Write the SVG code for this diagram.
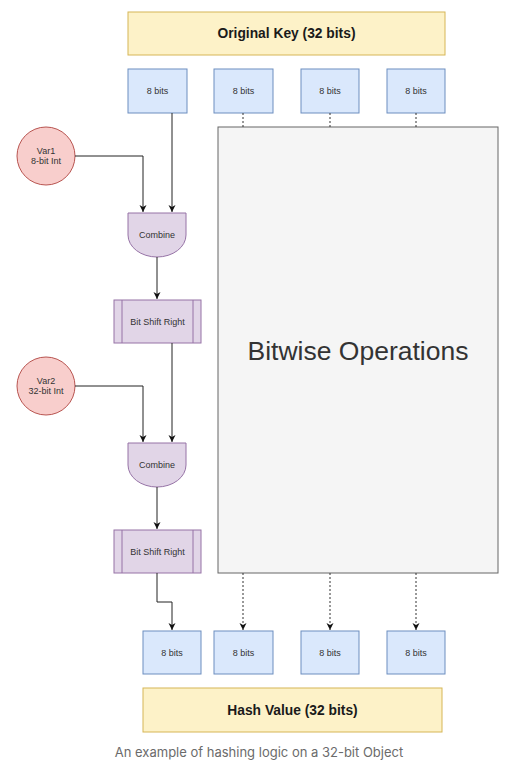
<svg xmlns="http://www.w3.org/2000/svg" width="512" height="768" viewBox="0 0 512 768">
<style>
.y{fill:#fdf2c8;stroke:#d6b656;stroke-width:1}
.b{fill:#dae8fc;stroke:#6c8ebf;stroke-width:1}
.p{fill:#e1d5e7;stroke:#9673a6;stroke-width:1}
.r{fill:#f8cecc;stroke:#b85450;stroke-width:1}
.g{fill:#f5f5f5;stroke:#666666;stroke-width:1}
.t{font-family:"Liberation Sans",Arial,sans-serif;font-size:9px;fill:#333333;text-anchor:middle}
.h{font-family:"Liberation Sans",Arial,sans-serif;font-size:13.8px;font-weight:bold;fill:#1a1a1a;text-anchor:middle}
.c{fill:none;stroke:#222222;stroke-width:1}
.d{fill:none;stroke:#333333;stroke-width:1;stroke-dasharray:2 2}
</style>
<defs>
<marker id="a" markerWidth="8" markerHeight="8" refX="7" refY="4" orient="auto" markerUnits="userSpaceOnUse">
<path d="M0,0.5 L7,4 L0,7.5 L2,4 Z" fill="#111111"/>
</marker>
</defs>
<rect width="512" height="768" fill="#ffffff"/>
<g id="original-key"><rect class="y" x="128" y="12" width="317" height="43"/><text class="h" x="286.5" y="38">Original Key (32 bits)</text></g>
<g id="in1"><rect class="b" x="128" y="69" width="59" height="44"/><text class="t" x="157.5" y="94">8 bits</text></g>
<g id="in2"><rect class="b" x="214" y="69" width="59" height="44"/><text class="t" x="243.5" y="94">8 bits</text></g>
<g id="in3"><rect class="b" x="301" y="69" width="58" height="44"/><text class="t" x="330" y="94">8 bits</text></g>
<g id="in4"><rect class="b" x="387" y="69" width="58" height="44"/><text class="t" x="416" y="94">8 bits</text></g>
<g id="bitwise"><rect class="g" x="218" y="127" width="280" height="446"/><text x="358" y="360" font-family="'Liberation Sans',Arial,sans-serif" font-size="26.5" fill="#333333" text-anchor="middle">Bitwise Operations</text></g>
<g id="var1"><circle class="r" cx="46" cy="156" r="29"/><text class="t" x="46" y="154">Var1</text><text class="t" x="46" y="164">8-bit Int</text></g>
<g id="combine1"><path class="p" d="M128,213 H186 V235 A29,22 0 0 1 128,235 Z"/><text class="t" x="157" y="238">Combine</text></g>
<g id="shift1"><rect class="p" x="114" y="300" width="87" height="43"/><line class="p" x1="122" y1="300" x2="122" y2="343"/><line class="p" x1="193" y1="300" x2="193" y2="343"/><text class="t" x="157.5" y="325">Bit Shift Right</text></g>
<g id="var2"><circle class="r" cx="46" cy="386" r="29"/><text class="t" x="46" y="384">Var2</text><text class="t" x="46" y="394">32-bit Int</text></g>
<g id="combine2"><path class="p" d="M128,443 H186 V465 A29,22 0 0 1 128,465 Z"/><text class="t" x="157" y="468">Combine</text></g>
<g id="shift2"><rect class="p" x="114" y="530" width="87" height="43"/><line class="p" x1="122" y1="530" x2="122" y2="573"/><line class="p" x1="193" y1="530" x2="193" y2="573"/><text class="t" x="157.5" y="555">Bit Shift Right</text></g>
<g id="out1"><rect class="b" x="143" y="631" width="58" height="43"/><text class="t" x="172" y="656">8 bits</text></g>
<g id="out2"><rect class="b" x="214" y="631" width="59" height="43"/><text class="t" x="243.5" y="656">8 bits</text></g>
<g id="out3"><rect class="b" x="301" y="631" width="58" height="43"/><text class="t" x="330" y="656">8 bits</text></g>
<g id="out4"><rect class="b" x="387" y="631" width="58" height="43"/><text class="t" x="416" y="656">8 bits</text></g>
<g id="hash-value"><rect class="y" x="143" y="688" width="299" height="44"/><text class="h" x="292.5" y="715">Hash Value (32 bits)</text></g>
<g id="connectors">
<path class="c" d="M75,156 H143 V212" marker-end="url(#a)"/>
<path class="c" d="M172,113 V212" marker-end="url(#a)"/>
<path class="c" d="M157,257 V299" marker-end="url(#a)"/>
<path class="c" d="M172,343 V442" marker-end="url(#a)"/>
<path class="c" d="M75,386 H143 V442" marker-end="url(#a)"/>
<path class="c" d="M157,487 V529" marker-end="url(#a)"/>
<path class="c" d="M157,573 V602 H172 V630" marker-end="url(#a)"/>
<path class="d" d="M243,113 V127"/>
<path class="d" d="M330,113 V127"/>
<path class="d" d="M416,113 V127"/>
<path class="d" d="M243,573 V630" marker-end="url(#a)"/>
<path class="d" d="M330,573 V630" marker-end="url(#a)"/>
<path class="d" d="M416,573 V630" marker-end="url(#a)"/>
</g>
<text x="259" y="757" font-family="Inter,'Liberation Sans',sans-serif" font-size="13" fill="#6b6b6b" text-anchor="middle">An example of hashing logic on a 32-bit Object</text>
</svg>
